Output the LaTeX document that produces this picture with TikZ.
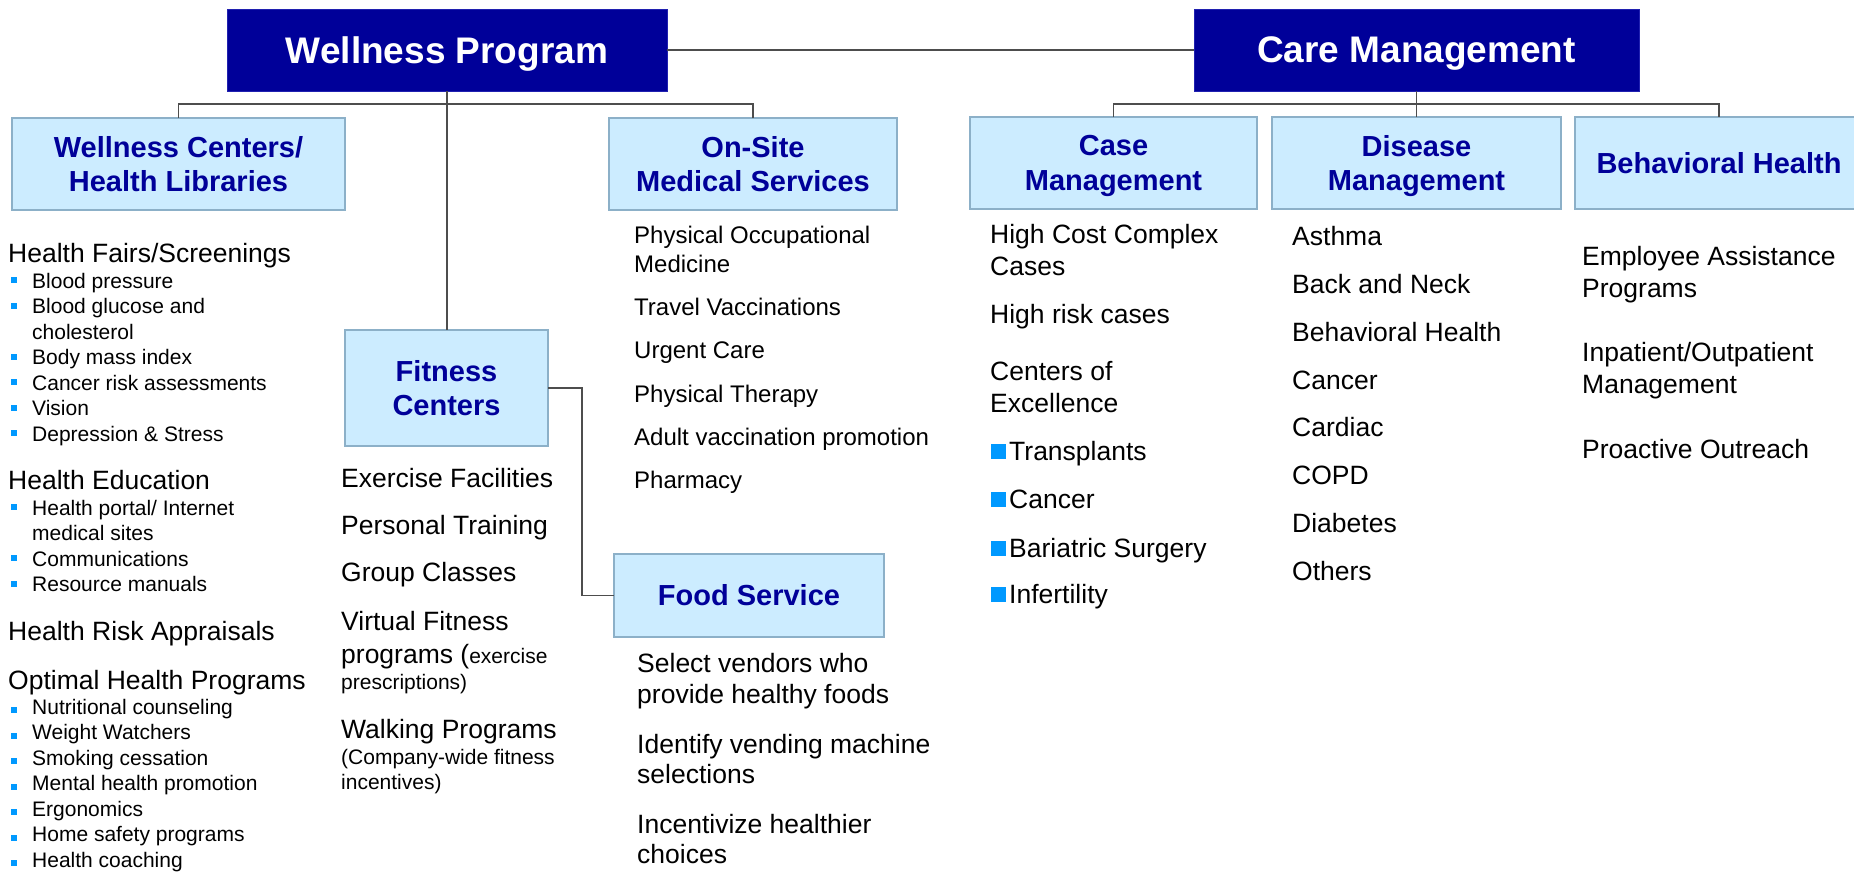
\documentclass[tikz,border=0pt]{standalone}
\usepackage{fontspec}
\setmainfont{Liberation Sans}
\definecolor{navyfill}{HTML}{000099}
\definecolor{topedge}{HTML}{2020B0}
\definecolor{navytext}{HTML}{000099}
\definecolor{boxfill}{HTML}{CCECFF}
\definecolor{boxedge}{HTML}{8CB0C8}
\definecolor{linegray}{HTML}{4D4D4D}
\definecolor{bulletblue}{HTML}{0099FF}
% text whose descenders should not push the box label upwards
\newcommand\nodepth[1]{\raisebox{0pt}[\height][0pt]{#1}}
\newcommand\lbullet[1]{\fill[bulletblue] (11,#1-11) rectangle (17,#1-5);}
\newcommand\obullet[1]{\fill[bulletblue] (11,#1-7) rectangle (17,#1-1);}
\newcommand\cbullet[1]{\fill[bulletblue] (991,#1-16) rectangle (1006,#1-1.5);}
\begin{document}
\begin{tikzpicture}[x=1pt,y=-1pt,
  topbox/.style={draw=topedge, line width=1pt, fill=navyfill, text=white,
    font=\fontsize{37}{44}\selectfont\bfseries, inner sep=0pt, outer sep=0pt},
  subbox/.style={draw=boxedge, line width=1.6pt, fill=boxfill, text=navytext,
    font=\fontsize{29}{34.5}\selectfont\bfseries, align=center, inner sep=0pt, outer sep=0pt},
  link/.style={draw=linegray, line width=1.3pt},
  big/.style={anchor=base west, inner sep=0pt, font=\fontsize{26.5}{31.5}\selectfont},
  med/.style={anchor=base west, inner sep=0pt, font=\fontsize{24}{29}\selectfont},
  sml/.style={anchor=base west, inner sep=0pt, font=\fontsize{21}{25.5}\selectfont},
]
\useasboundingbox (0,0) rectangle (1854,871);

% ---------- top level ----------
\node[topbox, minimum width=440pt, minimum height=82pt] (WP) at (447,50) {\nodepth{Wellness Program}};
\node[topbox, minimum width=445pt, minimum height=82pt] (CM) at (1416.5,50) {\nodepth{Care Management}};

% ---------- second level boxes ----------
\node[subbox, minimum width=333pt, minimum height=92pt] (WC) at (178.5,164) {Wellness Centers/\\Health Libraries};
\node[subbox, minimum width=288pt, minimum height=92pt] (OS) at (753,164) {On-Site\\Medical Services};
\node[subbox, minimum width=203pt, minimum height=116pt] (FC) at (446.5,388) {Fitness\\Centers};
\node[subbox, minimum width=270pt, minimum height=83pt] (FS) at (749,595.5) {Food Service};
\node[subbox, minimum width=287pt, minimum height=92pt] (CA) at (1113.5,163) {Case\\\nodepth{Management}};
\node[subbox, minimum width=289pt, minimum height=92pt] (DM) at (1416.5,163) {Disease\\\nodepth{Management}};
\node[subbox, minimum width=288pt, minimum height=92pt] (BH) at (1719,163) {Behavioral Health};

% ---------- connectors ----------
\coordinate (wbus) at (447,104);
\coordinate (cbus) at (1416.5,104);
\draw[link] (WP) -- (CM);
\draw[link] (WP.south) -- (WP.south |- FC.north);
\draw[link] (WC.north) |- (wbus) -| (OS.north);
\draw[link] (CA.north) |- (cbus) -| (BH.north);
\draw[link] (CM.south) -- (DM.north);
\draw[link] (FC.east) -- ++(34,0) |- (FS.west);

% ---------- Wellness Centers / Health Libraries ----------
\node[big] (w1) at (8,262) {Health Fairs/Screenings};
\lbullet{288}   \node[sml] (w2) at (32,288) {Blood pressure};
\lbullet{313.5} \node[sml] (w3) at (32,313.5) {Blood glucose and};
                \node[sml] (w4) at (32,339) {cholesterol};
\lbullet{364.5} \node[sml] (w5) at (32,364.5) {Body mass index};
\lbullet{390}   \node[sml] (w6) at (32,390) {Cancer risk assessments};
\lbullet{415.5} \node[sml] (w7) at (32,415.5) {Vision};
\lbullet{441}   \node[sml] (w8) at (32,441) {Depression \& Stress};

\node[big] (w9) at (8,489) {Health Education};
\lbullet{515}   \node[sml] (w10) at (32,515) {Health portal/ Internet};
                \node[sml] (w11) at (32,540.5) {medical sites};
\lbullet{566}   \node[sml] (w12) at (32,566) {Communications};
\lbullet{591.5} \node[sml] (w13) at (32,591.5) {Resource manuals};

\node[big] (w14) at (8,640) {Health Risk Appraisals};

\node[big] (w15) at (8,689) {Optimal Health Programs};
\obullet{714}   \node[sml] (w16) at (32,714) {Nutritional counseling};
\obullet{739.5} \node[sml] (w17) at (32,739.5) {Weight Watchers};
\obullet{765}   \node[sml] (w18) at (32,765) {Smoking cessation};
\obullet{790.5} \node[sml] (w19) at (32,790.5) {Mental health promotion};
\obullet{816}   \node[sml] (w20) at (32,816) {Ergonomics};
\obullet{841.5} \node[sml] (w21) at (32,841.5) {Home safety programs};
\obullet{867}   \node[sml] (w22) at (32,867) {Health coaching};

% ---------- Fitness Centers ----------
\node[big] (f1) at (341,487) {Exercise Facilities};
\node[big] (f2) at (341,534) {Personal Training};
\node[big] (f3) at (341,581) {Group Classes};
\node[big] (f4) at (341,630) {Virtual Fitness};
\node[big] (f5) at (341,663) {programs ({\fontsize{21}{25.5}\selectfont exercise}};
\node[sml] (f6) at (341,689) {prescriptions)};
\node[big] (f7) at (341,738) {Walking Programs};
\node[sml] (f8) at (341,764) {(Company-wide fitness};
\node[sml] (f9) at (341,789) {incentives)};

% ---------- On-Site Medical Services ----------
\node[med] (o1) at (634,243) {Physical Occupational};
\node[med] (o2) at (634,272.5) {Medicine};
\node[med] (o3) at (634,315) {Travel Vaccinations};
\node[med] (o4) at (634,358) {Urgent Care};
\node[med] (o5) at (634,402) {Physical Therapy};
\node[med] (o6) at (634,445) {Adult vaccination promotion};
\node[med] (o7) at (634,488) {Pharmacy};

% ---------- Food Service ----------
\node[big] (s1) at (637,672) {Select vendors who};
\node[big] (s2) at (637,703) {provide healthy foods};
\node[big] (s3) at (637,753) {Identify vending machine};
\node[big] (s4) at (637,783.5) {selections};
\node[big] (s5) at (637,833) {Incentivize healthier};
\node[big] (s6) at (637,863) {choices};

% ---------- Case Management ----------
\node[big] (c1) at (990,243) {High Cost Complex};
\node[big] (c2) at (990,275) {Cases};
\node[big] (c3) at (990,323) {High risk cases};
\node[big] (c4) at (990,380) {Centers of};
\node[big] (c5) at (990,412) {Excellence};
\cbullet{460} \node[big] (c6) at (1009,460) {Transplants};
\cbullet{508} \node[big] (c7) at (1009,508) {Cancer};
\cbullet{557} \node[big] (c8) at (1009,557) {Bariatric Surgery};
\cbullet{603} \node[big] (c9) at (1009,603) {Infertility};

% ---------- Disease Management ----------
\node[big] (d1) at (1292,245) {Asthma};
\node[big] (d2) at (1292,293) {Back and Neck};
\node[big] (d3) at (1292,341) {Behavioral Health};
\node[big] (d4) at (1292,389) {Cancer};
\node[big] (d5) at (1292,436) {Cardiac};
\node[big] (d6) at (1292,484) {COPD};
\node[big] (d7) at (1292,532) {Diabetes};
\node[big] (d8) at (1292,580) {Others};

% ---------- Behavioral Health ----------
\node[big] (b1) at (1582,265) {Employee Assistance};
\node[big] (b2) at (1582,297) {Programs};
\node[big] (b3) at (1582,361) {Inpatient/Outpatient};
\node[big] (b4) at (1582,393) {Management};
\node[big] (b5) at (1582,458) {Proactive Outreach};
\end{tikzpicture}
\end{document}
